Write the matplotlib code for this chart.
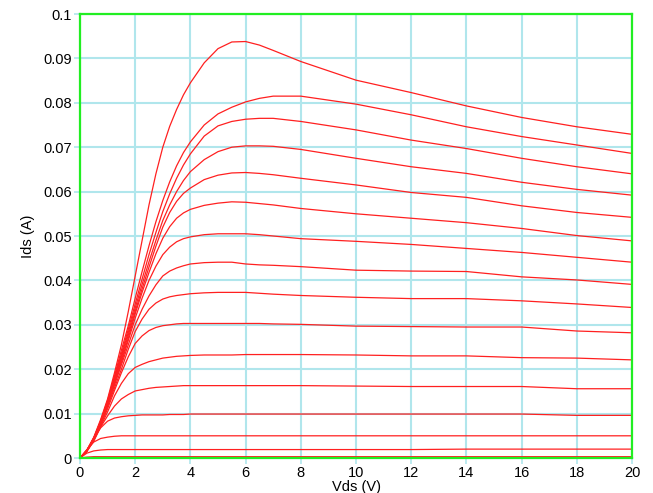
import matplotlib
matplotlib.use("Agg")
import matplotlib.pyplot as plt

# Drain voltage sample points (V)
vds = [0, 0.25, 0.5, 0.75, 1, 1.25, 1.5, 1.75, 2, 2.25, 2.5, 2.75, 3, 3.25, 3.5, 3.75,
       4, 4.5, 5, 5.5, 6, 6.5, 7, 8, 10, 12, 14, 16, 18, 20]

# Drain current (A), one list per gate voltage step, highest first
ids_c0 = [0, .0018, .0047, .0087, .0133, .0192, .0255, .033, .041, .049, .057, .064, .070, .0747, .0785, .0818,
          .0845, .089, .0922, .0937, .0938, .0930, .0918, .0893, .0851, .0823, .0793, .0767, .0746, .0729]
ids_c1 = [0, .0017, .0045, .0084, .0130, .0185, .0243, .0298, .036, .0420, .0478, .0532, .058, .0622, .0658, .0688,
          .0712, .0750, .0775, .0790, .0802, .0810, .0815, .0815, .0797, .0773, .0746, .0724, .0705, .0686]
ids_c2 = [0, .0017, .0045, .0083, .0128, .0181, .0235, .029, .0347, .0403, .0458, .0508, .0555, .0595, .063, .0660,
          .0685, .0725, .0748, .0758, .0763, .0765, .0765, .0758, .0739, .0716, .0697, .0675, .0656, .0640]
ids_c3 = [0, .0017, .0044, .0082, .0126, .0178, .023, .0283, .0338, .0391, .0442, .0490, .0535, .0570, .060, .0625,
          .0645, .0672, .0690, .0700, .0703, .0703, .0702, .0695, .0675, .0656, .0641, .0621, .0605, .0592]
ids_c4 = [0, .0017, .0044, .0081, .0125, .0175, .0225, .0277, .033, .0381, .043, .0477, .052, .0553, .0578, .0596,
          .0608, .0627, .0637, .0642, .0643, .0641, .0638, .0630, .0615, .0598, .0587, .0568, .0553, .0542]
ids_c5 = [0, .0017, .0044, .0080, .0123, .0172, .022, .027, .0325, .0373, .0418, .0460, .0495, .0521, .054, .0552,
          .0560, .0569, .0574, .0577, .0576, .0573, .0570, .0562, .0550, .0540, .0530, .0517, .0501, .0489]
ids_c6 = [0, .0016, .0043, .0079, .0121, .0168, .0215, .0265, .0315, .0360, .040, .0432, .0458, .0475, .0487, .0494,
          .0498, .0503, .0505, .0505, .0505, .0503, .0500, .0494, .0488, .0481, .0472, .0463, .0452, .0441]
ids_c7 = [0, .0016, .0043, .0078, .0119, .0164, .021, .0255, .030, .0335, .0365, .0390, .041, .0421, .0428, .0433,
          .0437, .0440, .0441, .0441, .0437, .0435, .0434, .0431, .0423, .0421, .0420, .0408, .0401, .0391]
ids_c8 = [0, .0016, .0042, .0076, .0116, .0158, .020, .0245, .0285, .0313, .0335, .0349, .0358, .0363, .0366, .0368,
          .0370, .0372, .0373, .0373, .0373, .0371, .0369, .0366, .0362, .0359, .0359, .0354, .0347, .0339]
ids_c9 = [0, .0016, .0041, .0074, .0111, .0152, .0192, .0228, .0258, .0275, .0287, .0294, .0298, .0300, .0302, .0303,
          .0303, .0303, .0303, .0303, .0303, .0303, .0302, .0301, .0297, .0296, .0295, .0295, .0286, .0282]
ids_c10 = [0, .0015, .0040, .0071, .0104, .0140, .0168, .0190, .0204, .0211, .0217, .0221, .0225, .0227, .0229, .0230,
           .0231, .0232, .0232, .0232, .0233, .0233, .0233, .0233, .0232, .0230, .0230, .0226, .0225, .0221]
ids_c11 = [0, .0015, .0038, .0070, .0095, .0117, .0133, .0143, .0151, .0154, .0157, .0159, .0160, .0161, .0162, .0163,
           .0163, .0163, .0163, .0163, .0163, .0163, .0163, .0163, .0162, .0161, .0161, .0161, .0156, .0156]
ids_c12 = [0, .0016, .0045, .0068, .0083, .0090, .0093, .0095, .0096, .0097, .0097, .0097, .0097, .0098, .0098, .0098,
           .0099, .0099, .0099, .0099, .0099, .0099, .0099, .0099, .0099, .0099, .0099, .0099, .0096, .0096]
ids_c13 = [0, .0019, .0036, .0044, .0047, .0049, .0050, .0050, .0050, .0050, .0050, .0050, .0050, .0050, .0050, .0050,
           .0050, .0050, .0050, .0050, .0050, .0050, .0050, .0050, .0050, .0050, .0050, .0050, .0050, .0050]
ids_c14 = [0, .0011, .0016, .0018, .0019, .0019, .0019, .0019, .0019, .0019, .0019, .0019, .0019, .0019, .0019, .0019,
           .0019, .0019, .0019, .0019, .0019, .0019, .0019, .0019, .0019, .0019, .0020, .0020, .0020, .0020]
ids_c15 = [0, .0002, .0003, .0003, .0003, .0003, .0003, .0003, .0003, .0003, .0003, .0003, .0003, .0003, .0003, .0003,
           .0003, .0003, .0003, .0003, .0003, .0003, .0003, .0003, .0003, .0003, .0003, .0003, .0003, .0003]

curves = [ids_c0, ids_c1, ids_c2, ids_c3, ids_c4, ids_c5, ids_c6, ids_c7,
          ids_c8, ids_c9, ids_c10, ids_c11, ids_c12, ids_c13, ids_c14, ids_c15]

x_ticks = list(range(0, 21, 2))
y_ticks = [i / 100 for i in range(11)]
y_tick_labels = ["0", "0.01", "0.02", "0.03", "0.04", "0.05", "0.06", "0.07", "0.08", "0.09", "0.1"]

plt.rcParams['font.family'] = ['Liberation Sans', 'DejaVu Sans']

fig = plt.figure(figsize=(6.53, 4.93), dpi=100)
ax = fig.add_axes([80 / 653, 1 - 458 / 493, 552 / 653, 444 / 493])

for ids in curves:
    assert len(ids) == len(vds)
    ax.plot(vds, ids, color='#ff2020', linewidth=0.9, zorder=3)

ax.set_xlim(0, 20)
ax.set_ylim(0, 0.1)
ax.set_xticks(x_ticks)
ax.set_yticks(y_ticks)
ax.set_yticklabels(y_tick_labels)

# Cyan grid, green frame
ax.grid(True, color='#b0e6ec', linewidth=1.5, zorder=0)
ax.set_axisbelow(True)
for side in ax.spines.values():
    side.set_color('#22ee22')
    side.set_linewidth(1.6)
    side.set_zorder(4)

ax.tick_params(axis='both', colors='#b0e6ec', labelcolor='black', labelsize=10.5,
               length=4, width=1.2, pad=2)

ax.set_xlabel("Vds (V)", fontsize=10.5, labelpad=0)
ax.set_ylabel("Ids (A)", fontsize=10.5, labelpad=6)

plt.savefig("out.png", dpi=100)
plt.close()
